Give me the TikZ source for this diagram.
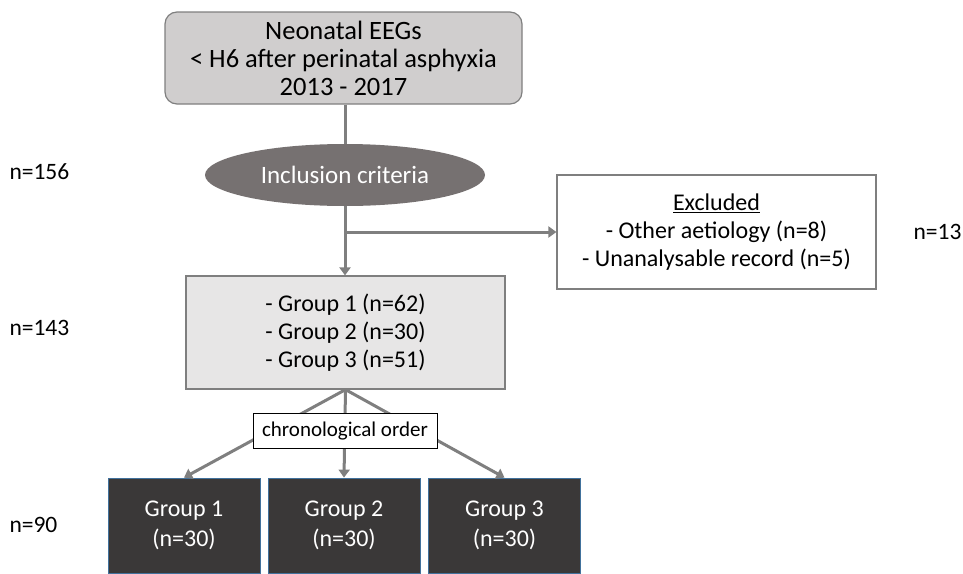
\documentclass[tikz,border=0pt]{standalone}
\usepackage{fontspec}
\setmainfont{Carlito}
\usepackage{tikz}
\usetikzlibrary{arrows.meta,shapes.geometric}
\definecolor{boxGray}{RGB}{208,206,206}
\definecolor{boxLight}{RGB}{231,230,230}
\definecolor{ovalGray}{RGB}{118,113,113}
\definecolor{groupDark}{RGB}{58,56,56}
\definecolor{groupEdge}{RGB}{65,113,156}
\definecolor{lineGray}{RGB}{127,127,127}

\tikzset{
  flowline/.style={draw=lineGray,line width=3pt},
  flowarrow/.style={flowline,-{Triangle[length=8pt,width=11pt]}},
  infobox/.style={draw=lineGray,line width=1.2pt,align=center,inner sep=0pt,
    font=\fontsize{24}{28}\selectfont},
  groupbox/.style={fill=groupDark,draw=groupEdge,line width=0.8pt,text=white,
    align=center,minimum width=152pt,minimum height=95pt,inner sep=0pt,
    font=\fontsize{24}{30}\selectfont},
  countlabel/.style={anchor=west,font=\fontsize{23.5}{26}\selectfont}
}

\begin{document}
\begin{tikzpicture}[x=1pt,y=-1pt]
  \useasboundingbox (0,0) rectangle (963,573);
  % source records
  \node[infobox,fill=boxGray,rounded corners=12pt,minimum width=357pt,
    minimum height=92pt,font=\fontsize{26.5}{28}\selectfont] (eegs) at (343.5,58)
    {Neonatal EEGs\\< H6 after perinatal asphyxia\\2013 - 2017};
  \node[ellipse,fill=ovalGray,text=white,minimum width=280pt,minimum height=62pt,
    inner sep=0pt,font=\fontsize{25}{28}\selectfont] (incl) at (345,175)
    {Inclusion criteria};
  % excluded records
  \node[infobox,fill=white,minimum width=319pt,minimum height=114pt] (excl)
    at (716.5,232)
    {\underline{Excluded}\\- Other aetiology (n=8)\\- Unanalysable record (n=5)};
  % included groups
  \node[infobox,fill=boxLight,minimum width=319pt,minimum height=113pt] (grp)
    at (345.5,332.5)
    {- Group 1 (n=62)\\- Group 2 (n=30)\\- Group 3 (n=51)};
  \node[groupbox] (g1) at (184,525.5) {Group 1\\(n=30)};
  \node[groupbox] (g2) at (344,525.5) {Group 2\\(n=30)};
  \node[groupbox] (g3) at (504.5,525.5) {Group 3\\(n=30)};
  % counts
  \node[countlabel] (n156) at (6,172) {n=156};
  \node[countlabel] (n13) at (910,232) {n=13};
  \node[countlabel] (n143) at (6,328) {n=143};
  \node[countlabel] (n90) at (6,525) {n=90};
  % connectors
  \coordinate (split) at (345,232);
  \draw[flowline] (eegs.south -| incl.north) -- (incl.north);
  \draw[flowarrow] (incl.south) -- (grp.north -| incl.south);
  \draw[flowarrow] (split) -- (excl.west);
  \draw[flowarrow] (grp.south) -- (g1.north);
  \draw[flowarrow] (grp.south) -- (g2.north);
  \draw[flowarrow] (grp.south) -- (g3.north);
  \node[draw=black,fill=white,line width=0.8pt,inner xsep=9pt,minimum height=35pt,
    font=\fontsize{21}{24}\selectfont] (chrono) at (345,431) {chronological order};
\end{tikzpicture}
\end{document}
